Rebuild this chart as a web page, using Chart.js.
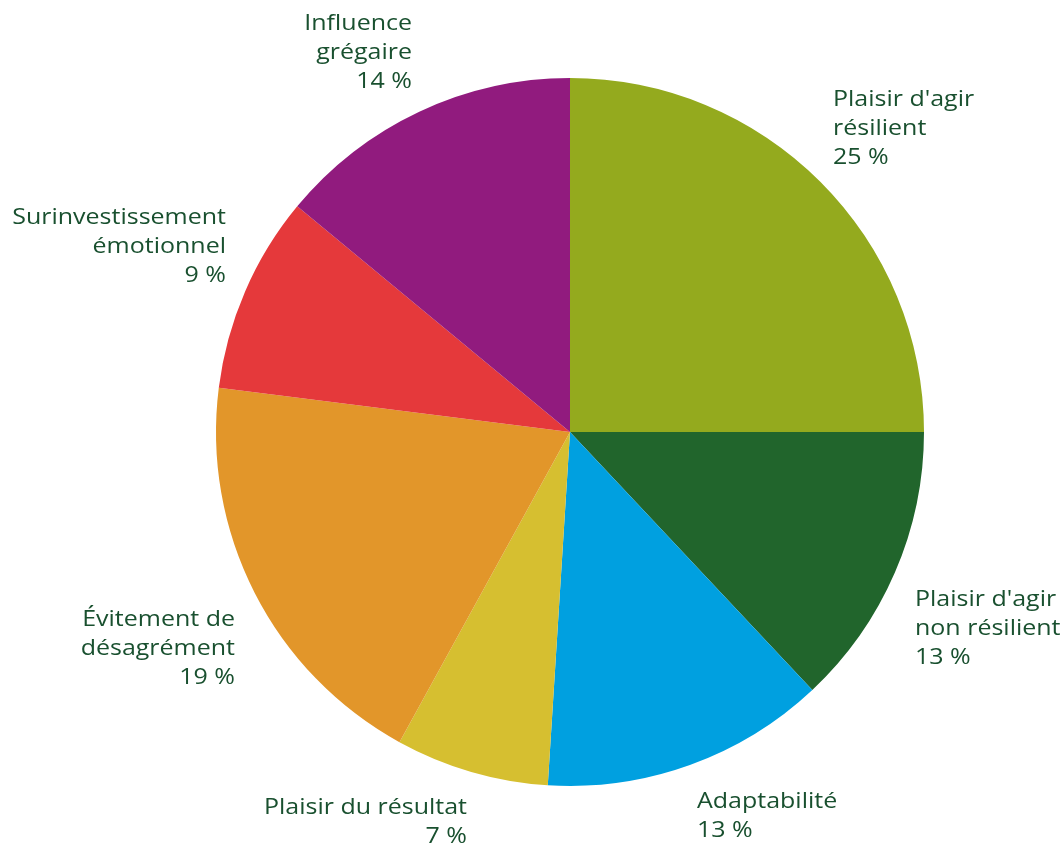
<!DOCTYPE html>
<html>
<head>
<meta charset="utf-8">
<script src="https://cdn.jsdelivr.net/npm/chart.js@4/dist/chart.umd.min.js"></script>
<style>
  html, body { margin: 0; padding: 0; background: #fff; }
  #wrap { width: 1064px; height: 855px; position: relative; }
</style>
</head>
<body>
<div id="wrap"><canvas id="pie"></canvas></div>
<script>
// data
var categories = [
    ["Plaisir d'agir", "résilient"],
    ["Plaisir d'agir", "non résilient"],
    ["Adaptabilité"],
    ["Plaisir du résultat"],
    ["Évitement de", "désagrément"],
    ["Surinvestissement", "émotionnel"],
    ["Influence", "grégaire"]
];
var shares = [25, 13, 13, 7, 19, 9, 14];
var sliceColors = ['#94aa1e', '#21652c', '#00a0e0', '#d6bf30', '#e2962a', '#e5393b', '#911b7e'];

// where each label block sits, relative to pie centre (x, y of first line, align)
var labelLayout = [
    {dx: 263, dy: -332, align: 'left'},
    {dx: 345, dy: 168, align: 'left'},
    {dx: 127, dy: 370, align: 'left'},
    {dx: -103, dy: 376, align: 'right'},
    {dx: -335, dy: 188, align: 'right'},
    {dx: -344, dy: -214, align: 'right'},
    {dx: -158, dy: -408, align: 'right'}
];

const outsideLabels = {
    id: 'outsideLabels',
    afterDraw(chart) {
        var ctx = chart.ctx;
        var meta = chart.getDatasetMeta(0);
        ctx.save();
        ctx.font = '21px "Open Sans", Lato, sans-serif';
        ctx.fillStyle = '#19502f';
        ctx.textBaseline = 'middle';
        meta.data.forEach(function(arc, i) {
            var lay = labelLayout[i];
            var lines = categories[i].concat([shares[i] + ' %']);
            ctx.textAlign = lay.align;
            for (var j = 0; j < lines.length; j++) {
                // the original labels are a bit wider than the font
                ctx.save();
                ctx.translate(arc.x + lay.dx, arc.y + lay.dy + j * 29);
                ctx.scale(1.19, 1);
                ctx.fillText(lines[j], 0, 0);
                ctx.restore();
            }
        });
        ctx.restore();
    }
};

var ctx = document.getElementById('pie').getContext('2d');
var pieChart = new Chart(ctx, {
    type: 'pie',
    data: {
        labels: categories.map(function(c) { return c.join(' '); }),
        datasets: [{
            data: shares,
            backgroundColor: sliceColors,
            borderWidth: 0
        }]
    },
    options: {
        responsive: true,
        maintainAspectRatio: false,
        animation: false,
        layout: { padding: { top: 78, bottom: 69, left: 216, right: 140 } },
        plugins: {
            legend: { display: false },
            tooltip: { enabled: false }
        }
    },
    plugins: [outsideLabels]
});
</script>
</body>
</html>
